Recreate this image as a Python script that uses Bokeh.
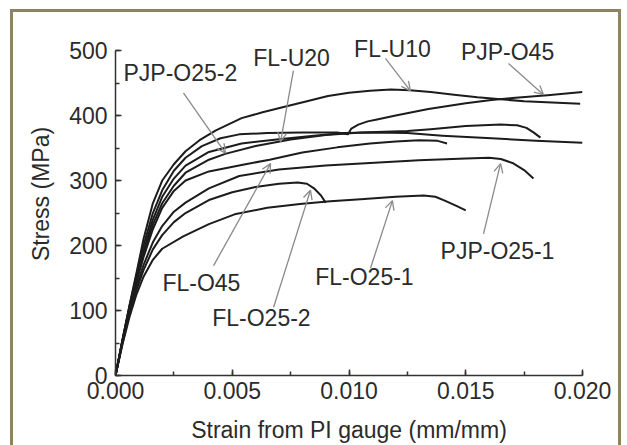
from bokeh.plotting import figure
from bokeh.models import (Range1d, SingleIntervalTicker, PrintfTickFormatter,
                          Label, Arrow, OpenHead, ColumnDataSource)
from bokeh.embed import file_html
from bokeh.resources import INLINE

# ---- stress-strain records, strain (mm/mm) vs stress (MPa) ----
fl_u10_strain = [0, 0.0003, 0.0006, 0.0009, 0.0012, 0.0016, 0.002, 0.0025, 0.003, 0.0036,
                 0.0043, 0.0054, 0.0063, 0.0072, 0.0082, 0.0091, 0.01, 0.0109, 0.0118,
                 0.0126, 0.0135, 0.0145, 0.0155, 0.0165, 0.0175, 0.0187, 0.0199]
fl_u10_stress = [0, 55, 108, 158, 210, 265, 300, 325, 345, 362,
                 377, 396, 405, 413, 422, 430, 435, 438, 440,
                 439, 436, 432, 428, 425, 422, 420, 418]

pjp_o45_strain = [0, 0.0003, 0.0006, 0.0009, 0.0012, 0.0016, 0.002, 0.0025, 0.003, 0.0037,
                  0.0045, 0.0053, 0.0065, 0.008, 0.0095, 0.0098, 0.00995, 0.01, 0.0101,
                  0.0104, 0.0108, 0.0112, 0.012, 0.0134, 0.015, 0.0161, 0.017, 0.0185, 0.02]
pjp_o45_stress = [0, 55, 107, 155, 200, 250, 285, 315, 335, 353,
                  365, 371, 373, 374, 374, 372, 371, 374, 380,
                  386, 391, 394, 400, 410, 419, 424, 427, 431, 436]

fl_u20_strain = [0, 0.0003, 0.0006, 0.0009, 0.0012, 0.0016, 0.002, 0.0025, 0.003, 0.004,
                 0.0054, 0.0071, 0.0085, 0.0098, 0.011, 0.0125, 0.014, 0.0161, 0.018, 0.02]
fl_u20_stress = [0, 54, 105, 150, 192, 240, 275, 303, 323, 344,
                 357, 364, 369, 373, 374, 373, 369, 365, 361, 358]

pjp_o25_2_strain = [0, 0.0003, 0.0006, 0.0009, 0.0012, 0.0016, 0.002, 0.0025, 0.003, 0.004,
                    0.0047, 0.006, 0.0075, 0.009, 0.0105, 0.0125, 0.0135, 0.015, 0.0165,
                    0.0172, 0.0176, 0.0179, 0.0182]
pjp_o25_2_stress = [0, 54, 104, 148, 188, 232, 265, 292, 312, 332,
                    341, 353, 363, 370, 374, 376, 379, 384, 386,
                    385, 381, 374, 366]

fl_o45_strain = [0, 0.0003, 0.0006, 0.0009, 0.0012, 0.0016, 0.002, 0.0025, 0.003, 0.004,
                 0.0054, 0.0066, 0.008, 0.0095, 0.0109, 0.012, 0.013, 0.0138, 0.0142]
fl_o45_stress = [0, 53, 102, 144, 182, 225, 258, 284, 300, 314,
                 324, 332, 343, 351, 357, 360, 362, 361, 357]

pjp_o25_1_strain = [0, 0.0003, 0.0006, 0.0009, 0.0012, 0.0016, 0.002, 0.0025, 0.003, 0.004,
                    0.0053, 0.007, 0.009, 0.0109, 0.013, 0.015, 0.016, 0.0165, 0.017,
                    0.0175, 0.0179]
pjp_o25_1_stress = [0, 52, 98, 137, 170, 205, 230, 252, 266, 288,
                    307, 317, 323, 327, 331, 334, 335, 333, 327,
                    316, 303]

fl_o25_2_strain = [0, 0.0003, 0.0006, 0.0009, 0.0012, 0.0016, 0.002, 0.0025, 0.003, 0.004,
                   0.005, 0.006, 0.007, 0.0078, 0.0082, 0.0085, 0.0088, 0.009]
fl_o25_2_stress = [0, 50, 95, 132, 162, 194, 216, 236, 250, 270,
                   282, 290, 295, 297, 295, 288, 277, 266]

fl_o25_1_strain = [0, 0.0003, 0.0006, 0.0009, 0.0012, 0.0016, 0.002, 0.0029, 0.004, 0.0051,
                   0.0065, 0.0079, 0.0092, 0.0105, 0.012, 0.0132, 0.0137, 0.0141, 0.0146, 0.015]
fl_o25_1_stress = [0, 48, 90, 125, 152, 178, 195, 214, 233, 248,
                   258, 264, 268, 271, 275, 277, 275, 269, 261, 254]

curves = [
    (fl_u10_strain, fl_u10_stress),
    (pjp_o45_strain, pjp_o45_stress),
    (fl_u20_strain, fl_u20_stress),
    (pjp_o25_2_strain, pjp_o25_2_stress),
    (fl_o45_strain, fl_o45_stress),
    (pjp_o25_1_strain, pjp_o25_1_stress),
    (fl_o25_2_strain, fl_o25_2_stress),
    (fl_o25_1_strain, fl_o25_1_stress),
]

# ---- specimen call-outs: label text, label anchor, arrow tail and tip ----
label_text = ["PJP-O25-2", "FL-U20", "FL-U10", "PJP-O45",
              "FL-O45", "FL-O25-2", "FL-O25-1", "PJP-O25-1"]
label_x = [0.00278, 0.00754, 0.01186, 0.01679, 0.00368, 0.00625, 0.01066, 0.01636]
label_y = [465, 489, 503, 497, 142, 88, 151, 191]
arrow_x0 = [0.00291, 0.00762, 0.01156, 0.01683, 0.0042, 0.00677, 0.01092, 0.01576]
arrow_y0 = [435, 469, 488, 480, 169, 105, 165, 218]
arrow_x1 = [0.00471, 0.00707, 0.01263, 0.01833, 0.00664, 0.00835, 0.01186, 0.01649]
arrow_y1 = [342, 360, 438, 432, 326, 285, 269, 326]

FONT = "Liberation Sans"
TEXT = "#2b2b2b"
FRAME = "#8c8464"

# the plotting area reaches above 500 MPa so the top call-outs are not clipped;
# the stress axis itself stops at 500
p = figure(width=627, height=445, output_backend="svg", toolbar_location=None,
           x_range=Range1d(0, 0.020), y_range=Range1d(0, 558.5),
           min_border_left=115, min_border_right=45,
           min_border_top=12, min_border_bottom=70)
p.grid.visible = False
p.outline_line_color = None
p.background_fill_color = None
p.border_fill_color = None

# olive frame line drawn behind the transparent canvas
bar = f"linear-gradient({FRAME},{FRAME})"
p.styles = {
    "background": (f"{bar} 10px 9px / 3px 440px no-repeat, "
                   f"{bar} 10px 9px / 611px 3px no-repeat, "
                   f"{bar} 618px 9px / 3px 440px no-repeat, #ffffff"),
}

for xs, ys in curves:
    p.line(xs, ys, line_color="#1c1c1c", line_width=2, line_join="round")

arrows = ColumnDataSource(dict(x0=arrow_x0, y0=arrow_y0, x1=arrow_x1, y1=arrow_y1))
p.add_layout(Arrow(source=arrows, x_start="x0", y_start="y0", x_end="x1", y_end="y1",
                   line_color="#8a8a8a", line_width=1.3,
                   end=OpenHead(size=9, line_color="#8a8a8a", line_width=1.3)))

for t, lx, ly in zip(label_text, label_x, label_y):
    p.add_layout(Label(x=lx, y=ly, text=t, text_align="center", text_baseline="middle",
                       text_font=FONT, text_font_size="23px", text_color=TEXT))

p.xaxis.ticker = SingleIntervalTicker(interval=0.005, num_minor_ticks=2)
p.yaxis.ticker = SingleIntervalTicker(interval=100, num_minor_ticks=2)
p.yaxis.bounds = (0, 500)
p.xaxis.formatter = PrintfTickFormatter(format="%.3f")
p.xaxis.axis_label = "Strain from PI gauge (mm/mm)"
p.yaxis.axis_label = "Stress (MPa)"

for ax in (p.xaxis, p.yaxis):
    ax.axis_line_color = "#333333"
    ax.axis_line_width = 1.5
    ax.major_tick_line_color = "#333333"
    ax.minor_tick_line_color = "#333333"
    ax.major_tick_line_width = 1.5
    ax.minor_tick_line_width = 1.5
    ax.major_tick_in = 6
    ax.major_tick_out = 0
    ax.minor_tick_in = 4
    ax.minor_tick_out = 0
    ax.major_label_text_font = FONT
    ax.major_label_text_font_size = "23px"
    ax.major_label_text_color = TEXT
    ax.axis_label_text_font = FONT
    ax.axis_label_text_font_size = "23px"
    ax.axis_label_text_font_style = "normal"
    ax.axis_label_text_color = TEXT
p.xaxis.major_label_standoff = 6
p.xaxis.axis_label_standoff = 15
p.yaxis.major_label_standoff = 8
p.yaxis.axis_label_standoff = 12

open("out.html", "w").write(file_html(p, INLINE))
